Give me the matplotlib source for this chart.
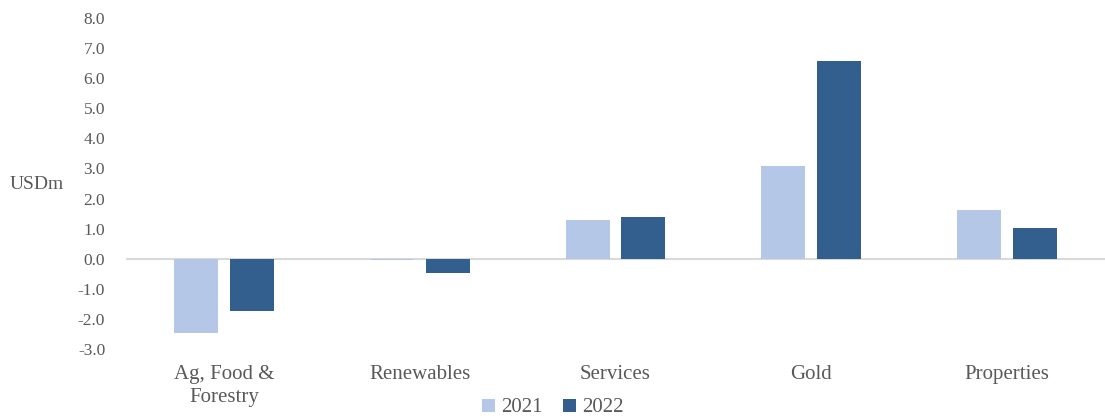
import numpy as np
import matplotlib
matplotlib.use("Agg")
import matplotlib.pyplot as plt

# 데이터
categories = ['Ag, Food &\nForestry', 'Renewables', 'Services', 'Gold', 'Properties']
val_2021 = [-2.47, -0.05, 1.30, 3.08, 1.61]
val_2022 = [-1.73, -0.49, 1.40, 6.57, 1.02]
yticks = np.arange(-3, 9, 1)

plt.rcParams['font.family'] = ['Liberation Serif', 'DejaVu Serif']
grey = '#595959'

fig = plt.figure(figsize=(11.05, 4.18), dpi=100)
ax = fig.add_axes([126 / 1105, 69 / 418, (1105 - 126) / 1105, (349 - 18) / 418])

x = np.arange(len(categories))
w = 0.224
ax.bar(x - 0.1425, val_2021, w, color='#b4c7e7', label='2021', zorder=2)
ax.bar(x + 0.1425, val_2022, w, color='#335f8f', label='2022', zorder=2)

ax.set_xlim(-0.5, len(categories) - 0.5)
ax.set_ylim(-3, 8)
ax.set_yticks(yticks)
ax.set_yticklabels(['%.1f' % v for v in yticks], color=grey, fontsize=12.5)
ax.tick_params(axis='y', length=0, pad=15)

# x축 라벨은 아래쪽에 텍스트로
ax.set_xticks([])
for i, c in enumerate(categories):
    ax.text(i, -3.52, c, ha='center', va='top', fontsize=15, color=grey,
            transform=ax.transData, linespacing=1.3)

for s in ax.spines.values():
    s.set_visible(False)
ax.axhline(0, color='#d9d9d9', lw=1.5, zorder=1)

fig.text(10 / 1105, 1 - 185 / 418, 'USDm', fontsize=14, color=grey, va='center', ha='left')

leg = fig.legend(loc='center', bbox_to_anchor=(553 / 1105, 1 - 408 / 418), ncol=2, frameon=False,
                 fontsize=15, handlelength=0.6, handleheight=0.6, handletextpad=0.3, columnspacing=1.0)
for t in leg.get_texts():
    t.set_color(grey)

fig.savefig('out.png', dpi=100)
